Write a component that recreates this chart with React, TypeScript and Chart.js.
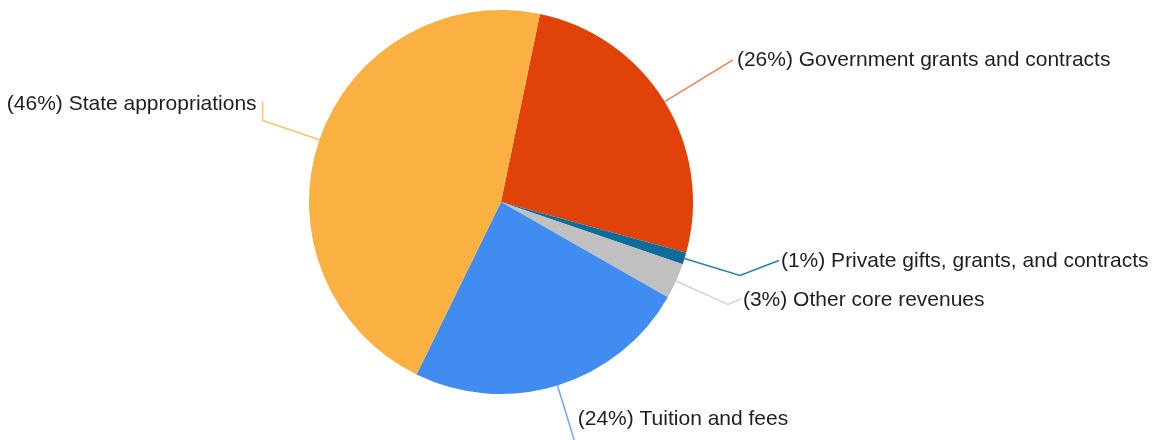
import React, { useEffect, useRef } from "react";
import { Chart, registerables } from "chart.js";

Chart.register(...registerables);

// ---- data ----
const categories = [
  "Government grants and contracts",
  "Private gifts, grants, and contracts",
  "Other core revenues",
  "Tuition and fees",
  "State appropriations",
];
const shares = [26, 1, 3, 24, 46];

// ---- styles ----
const sliceColors = ["#E0420A", "#0E6C9C", "#C0C0C0", "#418CF0", "#FAB142"];
const leaderColors = ["#F08058", "#2A80AE", "#D4D4D4", "#70A8F5", "#FBC468"];

// ---- label layout (leader line radial length, bend, text offset) ----
const leaderExt = [80, 58, 57, 57, 60];
const bendDx = [0, 39, 13, 0, 0];
const bendDy = [0, -15, -5.6, 0, -19];
const textDx = [4, 2, 2, 3.5, -6];
const textDy = [0.5, 0.5, 1, -20.5, 2.5];
const textAlign: CanvasTextAlign[] = ["left", "left", "left", "left", "right"];

const labelPlugin = {
  id: "outerLabels",
  afterDraw(chart: any) {
    const ctx = chart.ctx as CanvasRenderingContext2D;
    const meta = chart.getDatasetMeta(0);
    const data = chart.data.datasets[0].data as number[];
    const total = data.reduce((a, b) => a + b, 0);
    ctx.save();
    meta.data.forEach((arc: any, i: number) => {
      const p = arc.getProps(["x", "y", "startAngle", "endAngle", "outerRadius"], true);
      const mid = (p.startAngle + p.endAngle) / 2;
      const cx = Math.cos(mid);
      const cy = Math.sin(mid);
      const x0 = p.x + cx * p.outerRadius;
      const y0 = p.y + cy * p.outerRadius;
      const x1 = x0 + cx * leaderExt[i];
      const y1 = y0 + cy * leaderExt[i];
      const x2 = x1 + bendDx[i];
      const y2 = y1 + bendDy[i];
      ctx.strokeStyle = leaderColors[i];
      ctx.lineWidth = 1.5;
      ctx.beginPath();
      ctx.moveTo(x0, y0);
      ctx.lineTo(x1, y1);
      ctx.lineTo(x2, y2);
      ctx.stroke();
      const pct = Math.round((data[i] / total) * 100);
      const text = `(${pct}%) ${chart.data.labels[i]}`;
      ctx.font = "21px 'Liberation Sans', Arial, sans-serif";
      ctx.fillStyle = "#1e1e1e";
      ctx.textAlign = textAlign[i];
      ctx.textBaseline = "middle";
      ctx.fillText(text, x2 + textDx[i], y2 + textDy[i]);
    });
    ctx.restore();
  },
};

export default function App() {
  const ref = useRef<HTMLCanvasElement | null>(null);
  useEffect(() => {
    document.body.style.margin = "0";
    const canvas = ref.current!;
    const chart = new Chart(canvas, {
      type: "pie",
      data: {
        labels: categories,
        datasets: [
          {
            data: shares,
            backgroundColor: sliceColors,
            borderWidth: 0,
            hoverOffset: 0,
          },
        ],
      },
      options: {
        animation: false,
        responsive: false,
        devicePixelRatio: 1,
        rotation: 11.7,
        layout: { padding: { left: 0, right: 162, top: 10, bottom: 46 } },
        plugins: {
          legend: { display: false },
          tooltip: { enabled: false },
        },
      },
      plugins: [labelPlugin],
    });
    return () => chart.destroy();
  }, []);
  return (
    <div style={{ width: 1164, height: 440, background: "#fff" }}>
      <canvas ref={ref} width={1164} height={440} style={{ display: "block" }} />
    </div>
  );
}
